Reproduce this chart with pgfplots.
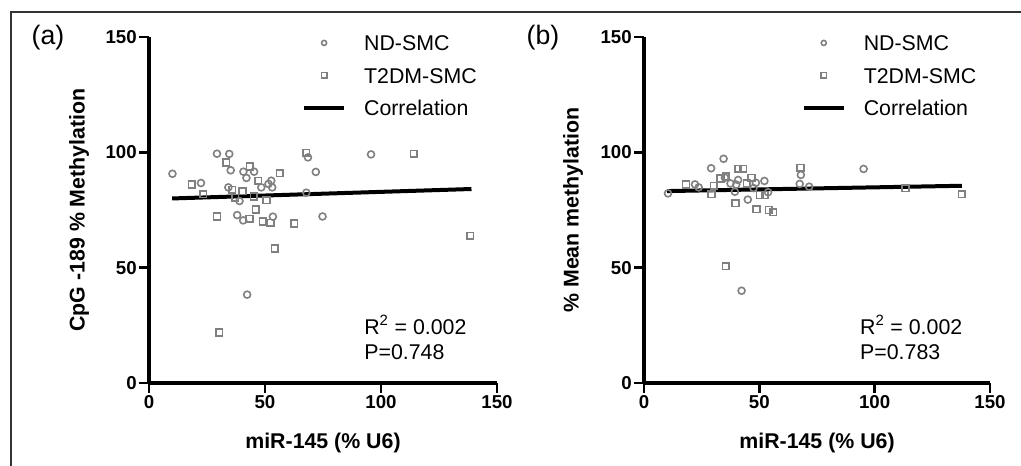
\documentclass[border=0pt]{standalone}
\usepackage{fontspec}
\setmainfont{Liberation Sans}
\usepackage{pgfplots}
\pgfplotsset{compat=1.18}
\definecolor{markgray}{RGB}{128,128,128}

\pgfplotsset{
  gpstyle/.style={
    scale only axis,
    xmin=0, xmax=150, ymin=0, ymax=150,
    xtick={0,50,100,150}, ytick={0,50,100,150},
    axis x line*=bottom, axis y line*=left,
    axis line style={line width=2.4pt, -},
    tick align=outside,
    major tick length=7.5pt,
    every tick/.style={line width=2.2pt, black},
    /pgf/number format/assume math mode=true,
    tick label style={font=\bfseries\fontsize{14}{16}\selectfont, inner sep=1.5pt},
    label style={font=\bfseries\fontsize{16}{19}\selectfont},
    xlabel style={at={(axis description cs:0.5,-0.173)}, anchor=center},
    legend cell align=left,
    legend style={draw=none, fill=none, anchor=north west,
      inner sep=0pt, outer sep=0pt,
      font=\fontsize{16}{19}\selectfont, row sep=12.9pt, column sep=13.5pt,
      nodes={inner sep=0pt, text height=11.5pt, text depth=0pt}},
  },
  nd/.style={only marks, mark=o, color=markgray, mark size=2.6pt,
    mark options={line width=1.2pt},
    legend image code/.code={\draw[##1, mark size=1.9pt] plot coordinates {(15pt,0pt)};}},
  t2/.style={only marks, mark=square, color=markgray, mark size=2.5pt,
    mark options={line width=1.2pt},
    legend image code/.code={\draw[##1, mark size=2.1pt] plot coordinates {(15pt,0pt)};}},
  corr/.style={black, line width=3pt,
    legend image code/.code={\draw[##1] (0pt,0pt) -- (30pt,0pt);}},
}

\begin{document}
\begin{tikzpicture}
\path[use as bounding box] (0,0) rectangle (765.75pt,349.5pt);
\draw[line width=1pt, black!80] (8.25pt,0pt) -- (8.25pt,340.5pt) -- (765.75pt,340.5pt);

% panel (a)
\begin{axis}[gpstyle,
  at={(111.75pt,62.25pt)}, anchor=south west,
  width=261pt, height=259.5pt,
  xlabel={miR-145 (\% U6)},
  ylabel={CpG -189 \% Methylation},
  ylabel style={at={(axis description cs:-0.201,0.5)}, anchor=center},
  legend style={at={(0.44,1.005)}},
]
\addplot[nd] coordinates {
  (10.1,90.7) (29.3,99.4) (34.6,99.3) (35.2,92.2) (22.4,86.7) (40.7,91.6)
  (45.3,91.6) (42.0,88.9) (34.2,84.8) (52.7,87.7) (51.5,86.3) (48.4,84.8)
  (53.1,84.8) (39.0,78.9) (38.0,72.8) (40.6,70.5) (53.4,72.1) (67.8,82.5)
  (68.5,97.8) (71.9,91.5) (74.8,72.2) (42.3,38.3) (95.7,99.1)
};
\addlegendentry{ND-SMC}
\addplot[t2] coordinates {
  (18.5,86.1) (23.4,81.8) (33.3,95.6) (43.4,93.9) (56.4,90.9) (47.0,87.7)
  (35.9,83.7) (40.3,83.2) (37.2,80.3) (45.2,80.8) (50.6,79.3) (46.0,75.2)
  (29.3,72.2) (43.3,71.2) (49.0,70.0) (52.4,69.5) (62.6,69.2) (54.2,58.3)
  (67.8,99.8) (114.1,99.4) (138.5,63.8) (30.3,21.9)
};
\addlegendentry{T2DM-SMC}
\addplot[corr] coordinates {(10,80.0) (139,84.1)};
\addlegendentry{Correlation}
\node[anchor=west, font=\fontsize{16}{19}\selectfont, inner sep=0pt]
  at (rel axis cs:0.618,0.168) {R\textsuperscript{2} = 0.002};
\node[anchor=west, font=\fontsize{16}{19}\selectfont, inner sep=0pt]
  at (rel axis cs:0.618,0.090) {P=0.748};
\end{axis}

% panel (b)
\begin{axis}[gpstyle,
  at={(483pt,62.25pt)}, anchor=south west,
  width=259.5pt, height=259.5pt,
  xlabel={miR-145 (\% U6)},
  ylabel={\% Mean methylation},
  ylabel style={at={(axis description cs:-0.205,0.5)}, anchor=center},
  legend style={at={(0.456,1.005)}},
]
\addplot[nd] coordinates {
  (10.4,82.2) (29.1,93.1) (34.5,97.2) (22.1,86.1) (23.7,84.8) (35.1,89.0)
  (39.4,82.9) (45.0,79.5) (42.3,40.0) (52.2,87.6) (53.8,82.7) (40.8,88.0)
  (37.5,86.5) (47.5,84.5) (40.0,86.0) (48.5,86.8) (68.0,90.2) (67.5,86.3)
  (71.6,85.1) (95.2,92.8)
};
\addlegendentry{ND-SMC}
\addplot[t2] coordinates {
  (18.2,86.1) (29.3,81.8) (30.3,85.5) (33.2,88.6) (35.5,89.5) (40.8,92.9)
  (43.0,92.9) (46.6,88.9) (39.7,78.0) (48.8,75.3) (54.1,75.0) (56.0,74.0)
  (50.2,81.5) (52.4,81.5) (35.5,50.7) (44.5,86.5) (67.8,93.3) (113.4,84.4)
  (137.8,81.9)
};
\addlegendentry{T2DM-SMC}
\addplot[corr] coordinates {(10,83.2) (137.8,85.5)};
\addlegendentry{Correlation}
\node[anchor=west, font=\fontsize{16}{19}\selectfont, inner sep=0pt]
  at (rel axis cs:0.624,0.168) {R\textsuperscript{2} = 0.002};
\node[anchor=west, font=\fontsize{16}{19}\selectfont, inner sep=0pt]
  at (rel axis cs:0.624,0.090) {P=0.783};
\end{axis}

\node[font=\fontsize{20}{24}\selectfont, inner sep=0pt] at (36pt,321pt) {(a)};
\node[font=\fontsize{20}{24}\selectfont, inner sep=0pt] at (407.25pt,321pt) {(b)};
\end{tikzpicture}
\end{document}
